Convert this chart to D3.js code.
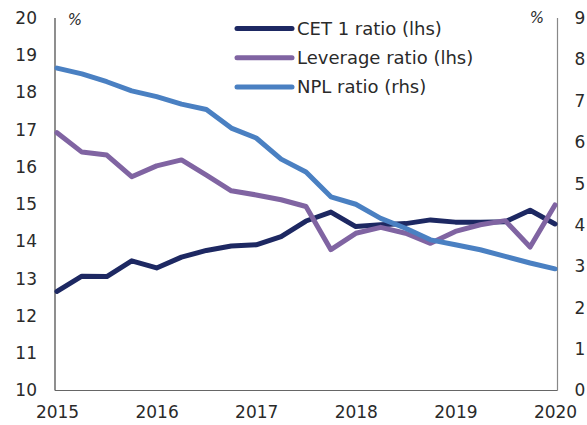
<!DOCTYPE html>
<html>
<head>
<meta charset="utf-8">
<script src="https://cdn.jsdelivr.net/npm/d3@7"></script>
<style>
  body { margin: 0; background: #fff; }
  svg { display: block; font-family: "DejaVu Sans", sans-serif; }
</style>
</head>
<body>
<div id="chart"></div>
<script>
// quarterly observations, 2015 Q1 .. 2020 Q1
const quarters = d3.range(21).map(i => 2015 + i / 4);
const cet1 = [12.66, 13.07, 13.06, 13.48, 13.29, 13.58, 13.76, 13.88, 13.91, 14.13, 14.55,
  14.79, 14.40, 14.45, 14.48, 14.58, 14.52, 14.52, 14.53, 14.84, 14.47];
const leverage = [16.92, 16.40, 16.32, 15.74, 16.03, 16.19, 15.78, 15.36, 15.25, 15.12, 14.94,
  13.78, 14.22, 14.38, 14.22, 13.95, 14.27, 14.45, 14.56, 13.85, 14.98];
const npl = [7.79, 7.65, 7.46, 7.24, 7.10, 6.92, 6.79, 6.34, 6.10, 5.59, 5.28,
  4.68, 4.50, 4.16, 3.92, 3.64, 3.52, 3.40, 3.24, 3.08, 2.94];
const yearTicks = [2015, 2016, 2017, 2018, 2019, 2020];
const leftTicks = d3.range(10, 21);
const rightTicks = d3.range(0, 10);

const series = [
  { name: 'CET 1 ratio (lhs)', values: cet1, axis: 'left', color: '#1d2862' },
  { name: 'Leverage ratio (lhs)', values: leverage, axis: 'left', color: '#8064a2' },
  { name: 'NPL ratio (rhs)', values: npl, axis: 'right', color: '#4a80c2' }
];

const width = 587, height = 425;
const svg = d3.select('#chart').append('svg')
  .attr('width', width)
  .attr('height', height);

const x = d3.scaleLinear().domain([2015, 2020]).range([57, 555]);
const yL = d3.scaleLinear().domain([10, 20]).range([390.5, 18]);
const yR = d3.scaleLinear().domain([0, 9]).range([390.5, 18]);

// axes frame
svg.append('line').attr('x1', 55).attr('x2', 55).attr('y1', 18).attr('y2', 390.5)
  .attr('stroke', '#444').attr('stroke-width', 1.2);
svg.append('line').attr('x1', 557.5).attr('x2', 557.5).attr('y1', 18).attr('y2', 390.5)
  .attr('stroke', '#888').attr('stroke-width', 1.2);
svg.append('line').attr('x1', 55).attr('x2', 557.5).attr('y1', 390.5).attr('y2', 390.5)
  .attr('stroke', '#666').attr('stroke-width', 1.2);

const gL = svg.append('g').attr('transform', 'translate(55,0)')
  .call(d3.axisLeft(yL).tickValues(leftTicks).tickSize(0).tickPadding(18));
const gR = svg.append('g').attr('transform', 'translate(557.5,0)')
  .call(d3.axisRight(yR).tickValues(rightTicks).tickSize(0).tickPadding(17));
const gX = svg.append('g').attr('transform', 'translate(0,390.5)')
  .call(d3.axisBottom(x).tickValues(yearTicks).tickFormat(d3.format('d')).tickSize(0).tickPadding(15));

[gL, gR, gX].forEach(g => {
  g.select('.domain').remove();
  g.selectAll('text')
    .attr('fill', '#2a2a2a')
    .style('font-size', '17px')
    .style('font-family', '"DejaVu Sans", sans-serif');
});

svg.append('text').attr('x', 75).attr('y', 25).attr('text-anchor', 'middle')
  .attr('fill', '#2a2a2a').style('font-size', '15px').style('font-style', 'italic').text('%');
svg.append('text').attr('x', 537).attr('y', 23).attr('text-anchor', 'middle')
  .attr('fill', '#2a2a2a').style('font-size', '15px').style('font-style', 'italic').text('%');

// lines
series.forEach(s => {
  const y = s.axis === 'left' ? yL : yR;
  const line = d3.line()
    .x((d, i) => x(quarters[i]))
    .y(d => y(d));
  svg.append('path')
    .datum(s.values)
    .attr('d', line)
    .attr('fill', 'none')
    .attr('stroke', s.color)
    .attr('stroke-width', 5)
    .attr('stroke-linejoin', 'round')
    .attr('stroke-linecap', 'round');
});

// legend
const legend = svg.append('g').attr('transform', 'translate(237,28.5)');
series.forEach((s, i) => {
  const row = legend.append('g').attr('transform', `translate(0,${i * 29.2})`);
  row.append('line').attr('x1', 0).attr('x2', 55).attr('y1', 0).attr('y2', 0)
    .attr('stroke', s.color).attr('stroke-width', 5).attr('stroke-linecap', 'round');
  row.append('text').attr('x', 60).attr('y', 6.5)
    .attr('fill', '#2a2a2a').style('font-size', '18px').text(s.name);
});
</script>
</body>
</html>
